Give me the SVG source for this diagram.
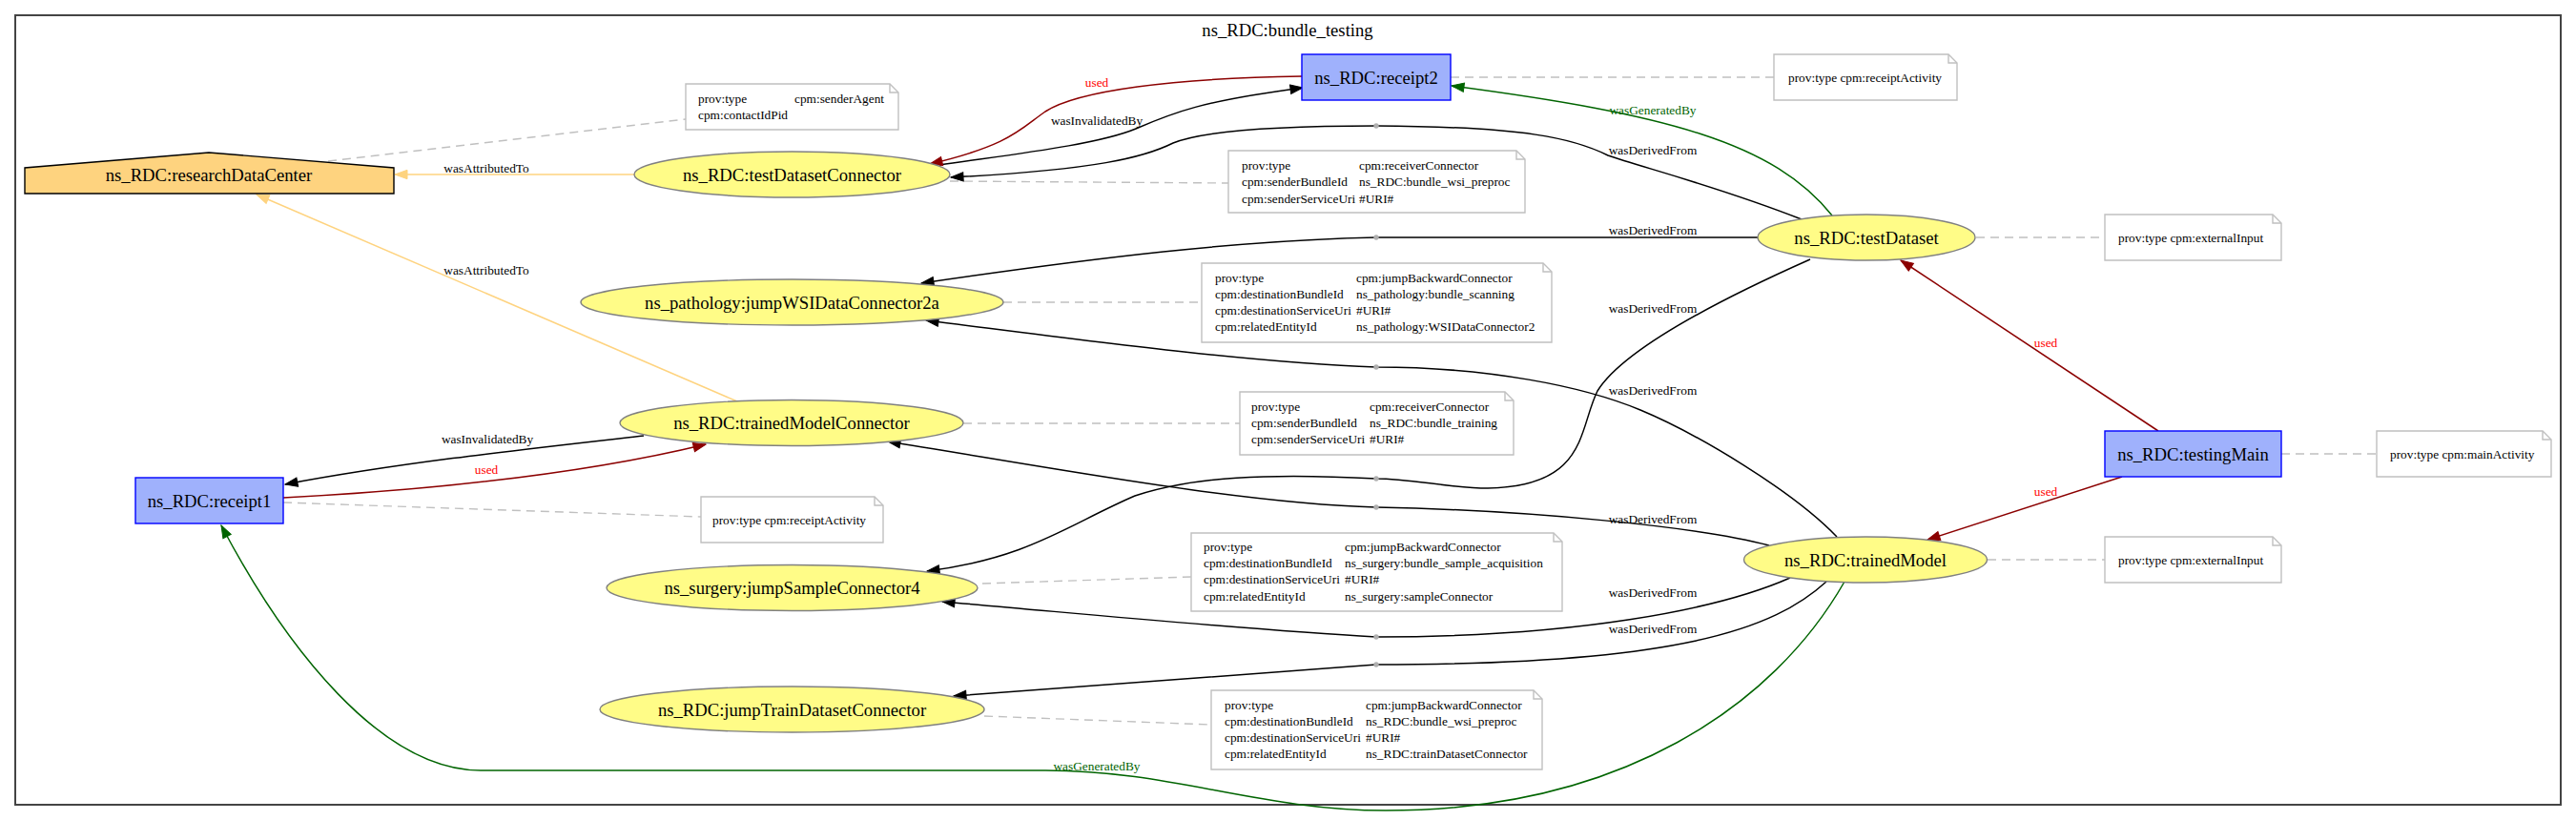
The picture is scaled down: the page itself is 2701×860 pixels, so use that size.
<svg xmlns="http://www.w3.org/2000/svg" width="2701" height="860" viewBox="0 0 2701 860">
<style>
text{font-family:"Liberation Serif","Times New Roman",serif;fill:#000}
.nl{font-size:18.67px;text-anchor:middle}
.el{font-size:13.33px;text-anchor:middle}
.nt{font-size:13.33px}
.ent{fill:#fffc87;stroke:#808080;stroke-width:1.4}
.act{fill:#9fb1fc;stroke:#0000ff;stroke-width:1.4}
.agt{fill:#fed37f;stroke:#000;stroke-width:1.4}
.note{fill:#fff;stroke:#c0c0c0;stroke-width:1.4}
.fold{fill:none;stroke:#c0c0c0;stroke-width:1.4}
.ann{fill:none;stroke:#c0c0c0;stroke-width:1.4;stroke-dasharray:9,6}
.e{fill:none;stroke-width:1.5}
.blk{stroke:#000;marker-end:url(#mb)}
.red{stroke:#8b0000;marker-end:url(#mr)}
.grn{stroke:#006400;marker-end:url(#mg)}
.org{stroke:#fed37f;marker-end:url(#mo)}
.rl{fill:#ff0000}
.gl{fill:#006400}
.dot{fill:#b0b0b0}
</style>
<defs>
<marker id="mb" markerUnits="userSpaceOnUse" markerWidth="14" markerHeight="10" viewBox="0 0 14 10" refX="13" refY="5" orient="auto" overflow="visible"><path d="M0,0.3 L13,5 L0,9.7 Z" fill="#000" stroke="#000" stroke-width="1"/></marker>
<marker id="mr" markerUnits="userSpaceOnUse" markerWidth="14" markerHeight="10" viewBox="0 0 14 10" refX="13" refY="5" orient="auto" overflow="visible"><path d="M0,0.3 L13,5 L0,9.7 Z" fill="#8b0000" stroke="#8b0000" stroke-width="1"/></marker>
<marker id="mg" markerUnits="userSpaceOnUse" markerWidth="14" markerHeight="10" viewBox="0 0 14 10" refX="13" refY="5" orient="auto" overflow="visible"><path d="M0,0.3 L13,5 L0,9.7 Z" fill="#006400" stroke="#006400" stroke-width="1"/></marker>
<marker id="mo" markerUnits="userSpaceOnUse" markerWidth="14" markerHeight="10" viewBox="0 0 14 10" refX="13" refY="5" orient="auto" overflow="visible"><path d="M0,0.3 L13,5 L0,9.7 Z" fill="#fed37f" stroke="#fed37f" stroke-width="1"/></marker>
</defs>
<rect width="2701" height="860" fill="#fff"/>
<g id="cluster">
<rect x="16" y="16" width="2669" height="828" fill="none" stroke="#444" stroke-width="2"/>
<text class="nl" x="1350" y="37.5">ns_RDC:bundle_testing</text>
</g>

<g id="connectors">
<!-- annotation links -->
<path class="ann" d="M344,169 L719,125"/>
<path class="ann" d="M996,190 L1288,192"/>
<path class="ann" d="M1521,81 L1860,81"/>
<path class="ann" d="M2072,249 L2207,249"/>
<path class="ann" d="M1052,317 L1260,317"/>
<path class="ann" d="M1010,444 L1300,444"/>
<path class="ann" d="M297,527 L735,542"/>
<path class="ann" d="M2392,476 L2492,476"/>
<path class="ann" d="M1030,612 L1249,605"/>
<path class="ann" d="M2084,587 L2207,587"/>
<path class="ann" d="M1032,751 L1270,760"/>
<!-- relations -->
<path class="e org" d="M665,183 L414,183"/>
<path class="e org" d="M773,421 L269,204"/>
<path class="e blk" d="M985,173 C1060,162 1150,152 1191,135 C1230,118 1260,106 1366,92"/>
<path class="e red" d="M1365,80 C1230,82 1130,95 1096,117 C1070,135 1060,152 975,172"/>
<path class="e grn" d="M1921,226 C1860,150 1750,120 1522,90"/>
<path class="e blk" d="M1889,230 C1800,195 1720,175 1686,163 C1650,145 1600,133 1443,132 C1330,132 1260,138 1230,150 C1200,165 1150,178 997,186"/>
<path class="e blk" d="M1844,249 L1443,249 C1300,252 1150,270 966,297"/>
<path class="e blk" d="M1926,563 C1880,515 1780,455 1720,430 C1660,405 1560,385 1443,385 C1300,380 1100,352 971,336"/>
<path class="e blk" d="M1898,272 C1790,320 1700,370 1675,410 C1655,450 1665,510 1560,512 C1520,512 1480,502 1443,502 C1330,496 1250,500 1190,520 C1120,550 1080,585 972,599"/>
<path class="e blk" d="M1855,572 C1780,552 1600,535 1443,532 C1300,528 1100,490 931,463"/>
<path class="e blk" d="M1877,606 C1800,640 1650,668 1443,668 C1300,660 1150,645 988,631"/>
<path class="e blk" d="M1915,610 C1860,660 1760,697 1443,697 L1000,730"/>
<path class="e blk" d="M675,457 C560,470 420,485 299,508"/>
<path class="e red" d="M297,522 C430,515 600,500 740,466"/>
<path class="e grn" d="M1934,610 C1860,740 1700,850 1453,850 C1320,850 1230,808 1096,808 L504,808 C400,808 300,680 232,551"/>
<path class="e red" d="M2263,452 L1993,273"/>
<path class="e red" d="M2225,500 L2021,566"/>
<circle class="dot" cx="1443" cy="132" r="2.7"/>
<circle class="dot" cx="1443" cy="249" r="2.7"/>
<circle class="dot" cx="1443" cy="385" r="2.7"/>
<circle class="dot" cx="1443" cy="502" r="2.7"/>
<circle class="dot" cx="1443" cy="532" r="2.7"/>
<circle class="dot" cx="1443" cy="668" r="2.7"/>
<circle class="dot" cx="1443" cy="697" r="2.7"/>
<!-- labels -->
<text class="el" x="510" y="180.5">wasAttributedTo</text>
<text class="el" x="510" y="287.5">wasAttributedTo</text>
<text class="el rl" x="1150" y="91">used</text>
<text class="el" x="1150" y="131">wasInvalidatedBy</text>
<text class="el gl" x="1733" y="119.5">wasGeneratedBy</text>
<text class="el" x="1733" y="161.5">wasDerivedFrom</text>
<text class="el" x="1733" y="245.5">wasDerivedFrom</text>
<text class="el" x="1733" y="327.5">wasDerivedFrom</text>
<text class="el" x="1733" y="413.5">wasDerivedFrom</text>
<text class="el" x="1733" y="548.5">wasDerivedFrom</text>
<text class="el" x="1733" y="625.5">wasDerivedFrom</text>
<text class="el" x="1733" y="663.5">wasDerivedFrom</text>
<text class="el rl" x="2145" y="363.5">used</text>
<text class="el rl" x="2145" y="519.5">used</text>
<text class="el" x="511" y="464.5">wasInvalidatedBy</text>
<text class="el rl" x="510" y="496.5">used</text>
<text class="el gl" x="1150" y="807.5">wasGeneratedBy</text>
</g>

<g id="researchDataCenter">
<polygon class="agt" points="413,203 26,203 26,176 219,160 413,176"/>
<text class="nl" x="219" y="189.5">ns_RDC:researchDataCenter</text>
</g>
<g id="testDatasetConnector">
<ellipse class="ent" cx="830.5" cy="183" rx="165.5" ry="24"/>
<text class="nl" x="830.5" y="189.5">ns_RDC:testDatasetConnector</text>
</g>
<g id="jumpWSIDataConnector2a">
<ellipse class="ent" cx="830.5" cy="317" rx="221.5" ry="24"/>
<text class="nl" x="830.5" y="323.5">ns_pathology:jumpWSIDataConnector2a</text>
</g>
<g id="trainedModelConnector">
<ellipse class="ent" cx="830" cy="443.5" rx="180" ry="24"/>
<text class="nl" x="830" y="450">ns_RDC:trainedModelConnector</text>
</g>
<g id="jumpSampleConnector4">
<ellipse class="ent" cx="830.5" cy="616.5" rx="194.5" ry="24"/>
<text class="nl" x="830.5" y="623">ns_surgery:jumpSampleConnector4</text>
</g>
<g id="jumpTrainDatasetConnector">
<ellipse class="ent" cx="830.5" cy="744" rx="201.5" ry="24"/>
<text class="nl" x="830.5" y="750.5">ns_RDC:jumpTrainDatasetConnector</text>
</g>
<g id="testDataset">
<ellipse class="ent" cx="1957" cy="249" rx="114" ry="24"/>
<text class="nl" x="1957" y="255.5">ns_RDC:testDataset</text>
</g>
<g id="trainedModel">
<ellipse class="ent" cx="1956" cy="587" rx="127.5" ry="24"/>
<text class="nl" x="1956" y="593.5">ns_RDC:trainedModel</text>
</g>
<g id="receipt2">
<rect class="act" x="1365" y="57" width="156" height="48"/>
<text class="nl" x="1443" y="87.5">ns_RDC:receipt2</text>
</g>
<g id="receipt1">
<rect class="act" x="142" y="501" width="155" height="48"/>
<text class="nl" x="219.5" y="531.5">ns_RDC:receipt1</text>
</g>
<g id="testingMain">
<rect class="act" x="2207" y="452" width="185" height="48"/>
<text class="nl" x="2299.5" y="482.5">ns_RDC:testingMain</text>
</g>

<g id="note_researchDataCenter">
<path class="note" d="M719,88 H933 L942,97 V136 H719 Z"/><path class="fold" d="M933,88 V97 H942"/>
<text class="nt" x="732" y="107.5">prov:type</text><text class="nt" x="833" y="107.5">cpm:senderAgent</text>
<text class="nt" x="732" y="124.5">cpm:contactIdPid</text>
</g>
<g id="note_testDatasetConnector">
<path class="note" d="M1288,158 H1590 L1599,167 V223 H1288 Z"/><path class="fold" d="M1590,158 V167 H1599"/>
<text class="nt" x="1302" y="177.5">prov:type</text><text class="nt" x="1425" y="177.5">cpm:receiverConnector</text>
<text class="nt" x="1302" y="195">cpm:senderBundleId</text><text class="nt" x="1425" y="195">ns_RDC:bundle_wsi_preproc</text>
<text class="nt" x="1302" y="212.5">cpm:senderServiceUri</text><text class="nt" x="1425" y="212.5">#URI#</text>
</g>
<g id="note_receipt2">
<path class="note" d="M1860,57 H2043 L2052,66 V105 H1860 Z"/><path class="fold" d="M2043,57 V66 H2052"/>
<text class="nt" x="1875" y="85.5">prov:type cpm:receiptActivity</text>
</g>
<g id="note_testDataset">
<path class="note" d="M2207,225 H2383 L2392,234 V273 H2207 Z"/><path class="fold" d="M2383,225 V234 H2392"/>
<text class="nt" x="2221" y="253.5">prov:type cpm:externalInput</text>
</g>
<g id="note_jumpWSIDataConnector2a">
<path class="note" d="M1260,276 H1618 L1627,285 V359 H1260 Z"/><path class="fold" d="M1618,276 V285 H1627"/>
<text class="nt" x="1274" y="295.5">prov:type</text><text class="nt" x="1422" y="295.5">cpm:jumpBackwardConnector</text>
<text class="nt" x="1274" y="312.5">cpm:destinationBundleId</text><text class="nt" x="1422" y="312.5">ns_pathology:bundle_scanning</text>
<text class="nt" x="1274" y="329.5">cpm:destinationServiceUri</text><text class="nt" x="1422" y="329.5">#URI#</text>
<text class="nt" x="1274" y="347">cpm:relatedEntityId</text><text class="nt" x="1422" y="347">ns_pathology:WSIDataConnector2</text>
</g>
<g id="note_trainedModelConnector">
<path class="note" d="M1300,411 H1578 L1587,420 V477 H1300 Z"/><path class="fold" d="M1578,411 V420 H1587"/>
<text class="nt" x="1312" y="431">prov:type</text><text class="nt" x="1436" y="431">cpm:receiverConnector</text>
<text class="nt" x="1312" y="448">cpm:senderBundleId</text><text class="nt" x="1436" y="448">ns_RDC:bundle_training</text>
<text class="nt" x="1312" y="465">cpm:senderServiceUri</text><text class="nt" x="1436" y="465">#URI#</text>
</g>
<g id="note_receipt1">
<path class="note" d="M735,521 H917 L926,530 V569 H735 Z"/><path class="fold" d="M917,521 V530 H926"/>
<text class="nt" x="747" y="550">prov:type cpm:receiptActivity</text>
</g>
<g id="note_testingMain">
<path class="note" d="M2492,452 H2666 L2675,461 V500 H2492 Z"/><path class="fold" d="M2666,452 V461 H2675"/>
<text class="nt" x="2506" y="480.5">prov:type cpm:mainActivity</text>
</g>
<g id="note_jumpSampleConnector4">
<path class="note" d="M1249,559 H1629 L1638,568 V641 H1249 Z"/><path class="fold" d="M1629,559 V568 H1638"/>
<text class="nt" x="1262" y="577.5">prov:type</text><text class="nt" x="1410" y="577.5">cpm:jumpBackwardConnector</text>
<text class="nt" x="1262" y="595">cpm:destinationBundleId</text><text class="nt" x="1410" y="595">ns_surgery:bundle_sample_acquisition</text>
<text class="nt" x="1262" y="612">cpm:destinationServiceUri</text><text class="nt" x="1410" y="612">#URI#</text>
<text class="nt" x="1262" y="629.5">cpm:relatedEntityId</text><text class="nt" x="1410" y="629.5">ns_surgery:sampleConnector</text>
</g>
<g id="note_trainedModel">
<path class="note" d="M2207,563 H2383 L2392,572 V611 H2207 Z"/><path class="fold" d="M2383,563 V572 H2392"/>
<text class="nt" x="2221" y="591.5">prov:type cpm:externalInput</text>
</g>
<g id="note_jumpTrainDatasetConnector">
<path class="note" d="M1270,724 H1608 L1617,733 V807 H1270 Z"/><path class="fold" d="M1608,724 V733 H1617"/>
<text class="nt" x="1284" y="743.5">prov:type</text><text class="nt" x="1432" y="743.5">cpm:jumpBackwardConnector</text>
<text class="nt" x="1284" y="760.5">cpm:destinationBundleId</text><text class="nt" x="1432" y="760.5">ns_RDC:bundle_wsi_preproc</text>
<text class="nt" x="1284" y="777.5">cpm:destinationServiceUri</text><text class="nt" x="1432" y="777.5">#URI#</text>
<text class="nt" x="1284" y="795">cpm:relatedEntityId</text><text class="nt" x="1432" y="795">ns_RDC:trainDatasetConnector</text>
</g>
</svg>
